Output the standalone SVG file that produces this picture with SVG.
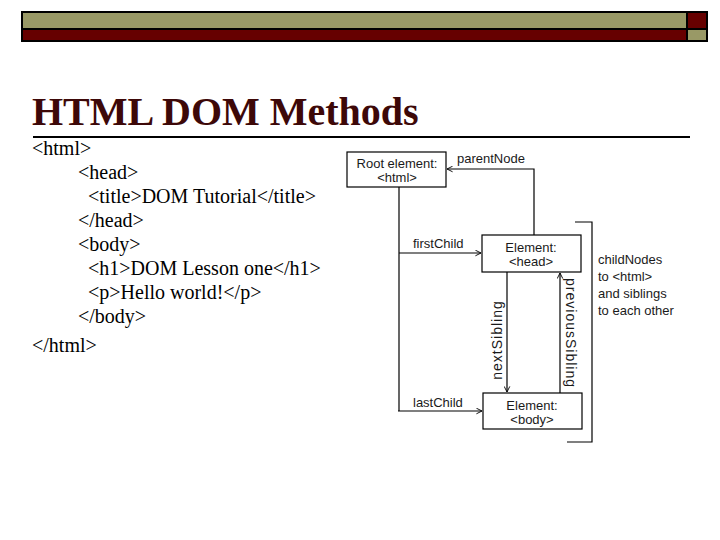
<svg xmlns="http://www.w3.org/2000/svg" width="720" height="540" viewBox="0 0 720 540">
  <defs>
    <style>
      .olive { fill: #999966; stroke: #000; stroke-width: 2; }
      .red { fill: #660000; stroke: #000; stroke-width: 2; }
      .title { font-family: "Liberation Serif", "Times New Roman", serif; font-weight: bold; font-size: 40px; fill: #3d0808; }
      .code { font-family: "Liberation Serif", "Times New Roman", serif; font-size: 20px; fill: #000; }
      .lbl { font-family: "Liberation Sans", Arial, sans-serif; font-size: 13px; fill: #1a1a1a; }
      .rot { font-family: "Liberation Sans", Arial, sans-serif; font-size: 14px; letter-spacing: 1px; fill: #1a1a1a; }
      .box { fill: #fff; stroke: #000; stroke-width: 1.2; }
      .conn { fill: none; stroke: #000; stroke-width: 1.2; }
    </style>
    <marker id="arr" viewBox="0 0 10 10" refX="9" refY="5" markerWidth="7" markerHeight="7" markerUnits="userSpaceOnUse" orient="auto">
      <path d="M1,1 L9,5 L1,9" fill="none" stroke="#000" stroke-width="1.3"/>
    </marker>
  </defs>
  <rect width="720" height="540" fill="#fff"/>

  <!-- header bar -->
  <g id="header-bar">
    <rect class="olive" x="22" y="12" width="665" height="17"/>
    <rect class="red" x="22" y="29" width="665" height="12"/>
    <rect class="red" x="687" y="12" width="20" height="17"/>
    <rect class="olive" x="687" y="29" width="20" height="12"/>
  </g>

  <!-- title -->
  <g id="title">
    <text class="title" x="32" y="125">HTML DOM Methods</text>
    <line x1="33" y1="137" x2="690" y2="137" stroke="#000" stroke-width="2"/>
  </g>

  <!-- code listing -->
  <g id="code">
    <text class="code" x="32" y="155">&lt;html&gt;</text>
    <text class="code" x="78" y="179">&lt;head&gt;</text>
    <text class="code" x="88" y="203">&lt;title&gt;DOM Tutorial&lt;/title&gt;</text>
    <text class="code" x="78" y="227">&lt;/head&gt;</text>
    <text class="code" x="78" y="251">&lt;body&gt;</text>
    <text class="code" x="88" y="275">&lt;h1&gt;DOM Lesson one&lt;/h1&gt;</text>
    <text class="code" x="88" y="299">&lt;p&gt;Hello world!&lt;/p&gt;</text>
    <text class="code" x="78" y="323">&lt;/body&gt;</text>
    <text class="code" x="32" y="352">&lt;/html&gt;</text>
  </g>

  <!-- connectors -->
  <g id="connectors">
    <polyline class="conn" points="534,235 534,169 447,169" marker-end="url(#arr)"/>
    <line class="conn" x1="399" y1="187" x2="399" y2="411"/>
    <line class="conn" x1="399" y1="253" x2="481" y2="253" marker-end="url(#arr)"/>
    <line class="conn" x1="398" y1="411" x2="482" y2="411" stroke-width="2" marker-end="url(#arr)"/>
    <line class="conn" x1="507" y1="272" x2="507" y2="392" marker-end="url(#arr)"/>
    <line class="conn" x1="560" y1="393" x2="560" y2="273" marker-end="url(#arr)"/>
    <polyline class="conn" points="575,222 592,222 592,442 567,442"/>
  </g>

  <!-- connector labels -->
  <g id="labels">
    <text class="lbl" x="457" y="163">parentNode</text>
    <text class="lbl" x="413" y="248">firstChild</text>
    <text class="lbl" x="413" y="407">lastChild</text>
    <text class="rot" transform="translate(502,340) rotate(-90)" text-anchor="middle">nextSibling</text>
    <text class="rot" transform="translate(566,333) rotate(90)" text-anchor="middle">previousSibling</text>
    <text class="lbl" x="598" y="264">childNodes</text>
    <text class="lbl" x="598" y="281">to &lt;html&gt;</text>
    <text class="lbl" x="598" y="298">and siblings</text>
    <text class="lbl" x="598" y="315">to each other</text>
  </g>

  <!-- nodes -->
  <g id="node-root">
    <rect class="box" x="347" y="152" width="99" height="35"/>
    <text class="lbl" x="397" y="168" text-anchor="middle">Root element:</text>
    <text class="lbl" x="397" y="182" text-anchor="middle">&lt;html&gt;</text>
  </g>
  <g id="node-head">
    <rect class="box" x="482" y="235" width="99" height="37"/>
    <text class="lbl" x="531" y="252" text-anchor="middle">Element:</text>
    <text class="lbl" x="531" y="266" text-anchor="middle">&lt;head&gt;</text>
  </g>
  <g id="node-body">
    <rect class="box" x="483" y="393" width="99" height="36" stroke-width="2"/>
    <text class="lbl" x="532" y="410" text-anchor="middle">Element:</text>
    <text class="lbl" x="532" y="424" text-anchor="middle">&lt;body&gt;</text>
  </g>
</svg>
